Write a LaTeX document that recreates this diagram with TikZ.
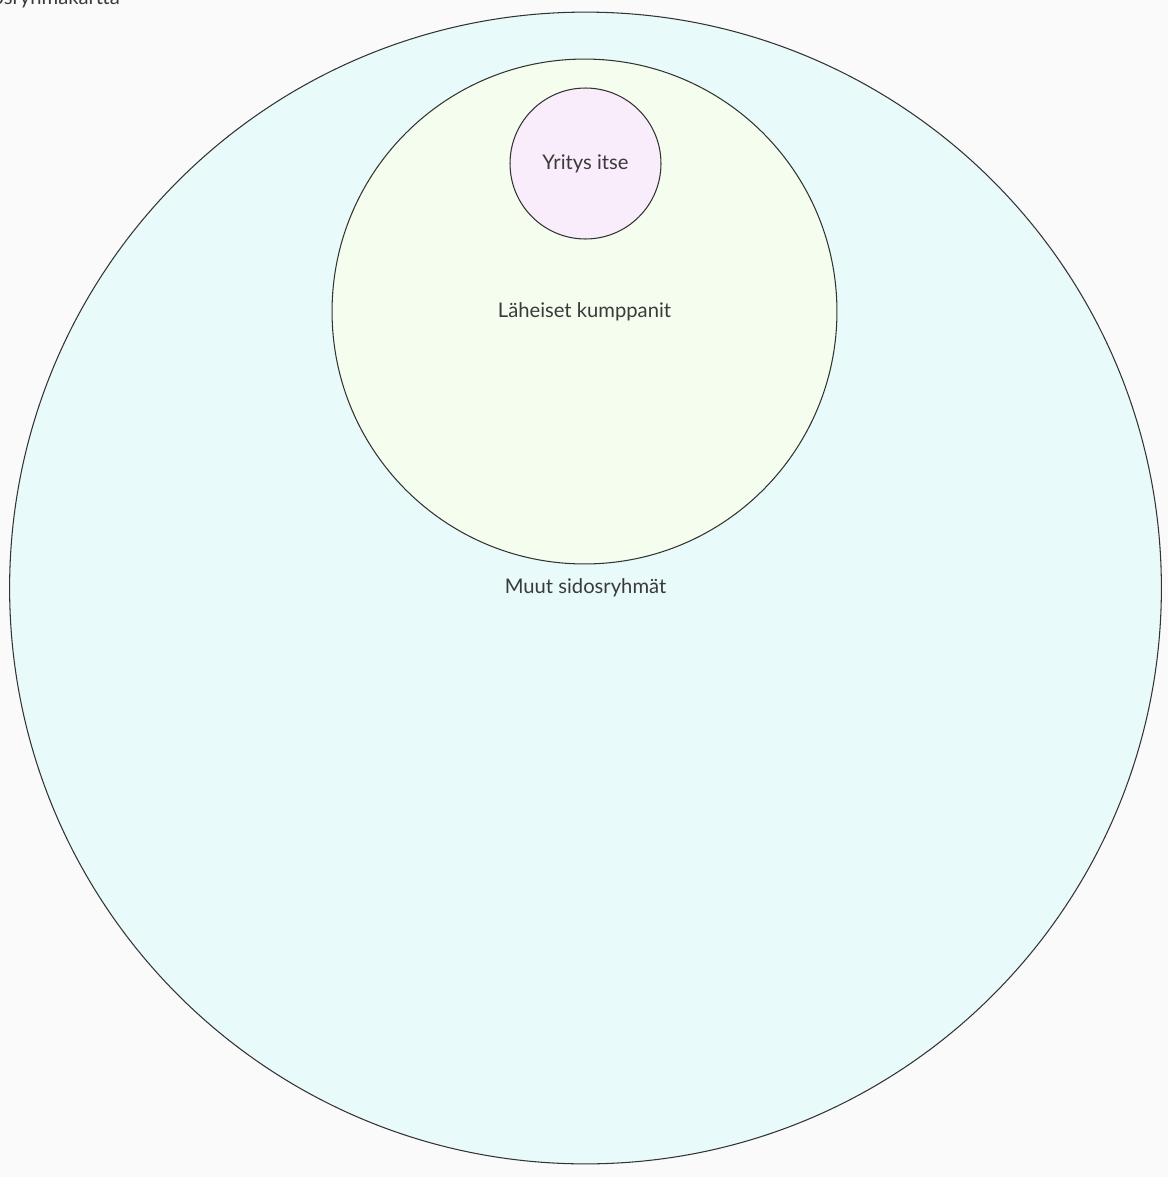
\documentclass[tikz,border=0pt]{standalone}
\usepackage{fontspec}
\setmainfont{Lato}
\usepackage{tikz}
\usepackage{xcolor}
\usetikzlibrary{positioning}

\definecolor{paper}{HTML}{FAFAFA}
\definecolor{muutfill}{HTML}{E9FAFB}
\definecolor{lahfill}{HTML}{F4FDEE}
\definecolor{yrfill}{HTML}{F9ECFB}
\definecolor{labeltext}{HTML}{3A3A3A}

\begin{document}
\begin{tikzpicture}[x=0.02cm, y=-0.02cm,
    ring/.style={circle, draw=black!80, line width=0.6pt, inner sep=0pt,
                 text=labeltext, font=\fontsize{11.5}{13}\selectfont}]
                                        \fill[paper] (0,0) rectangle (1168,1177);
                                        \useasboundingbox (0,0) rectangle (1168,1177);

                                        \node[anchor=base east, text=labeltext, font=\fontsize{11.5}{13}\selectfont]
                                            (title) at (126,4) {Sidosryhmäkartta};

                                        \node[ring, fill=muutfill, minimum size=23.04cm] (muut) at (585.5,588) {Muut sidosryhmät};
                                        \node[ring, fill=lahfill, minimum size=10.1cm] (lah) at (584.5,311.5) {Läheiset kumppanit};
                                        \node[ring, fill=yrfill, minimum size=3.02cm] (yr) at (585.5,163.5) {Yritys itse};
                                    \end{tikzpicture}
\end{document}
